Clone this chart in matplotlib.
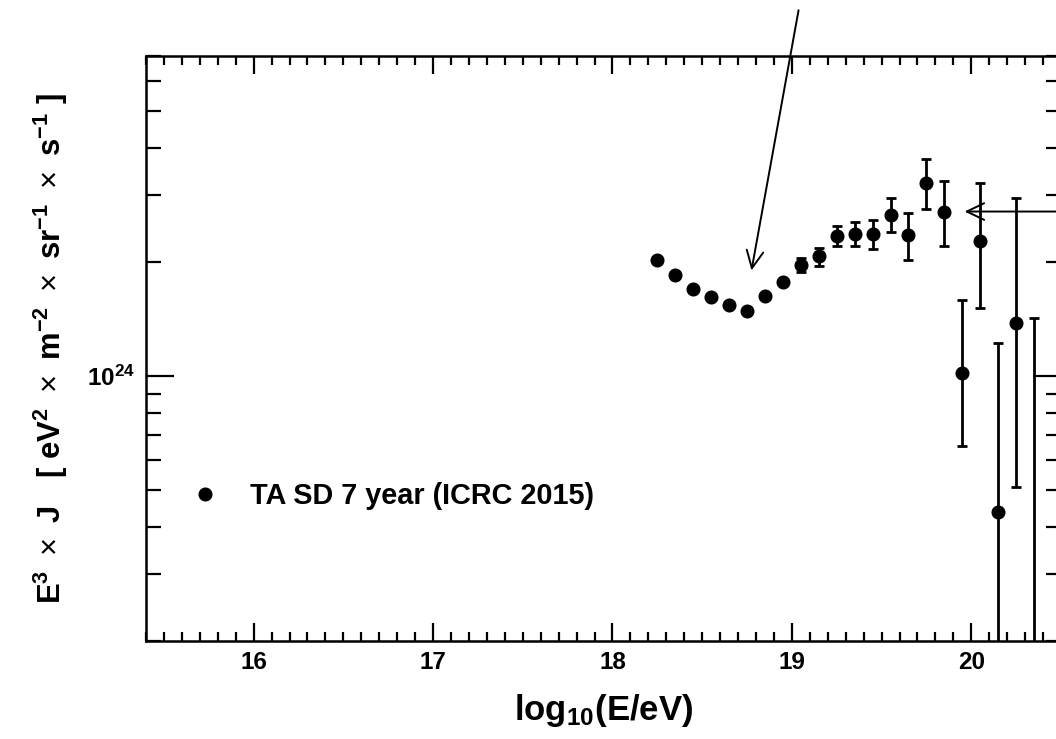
import numpy as np
import matplotlib
matplotlib.use('Agg')
import matplotlib.pyplot as plt
from matplotlib.ticker import FixedLocator, LogLocator, NullFormatter, MultipleLocator
from matplotlib.lines import Line2D

plt.rcParams['font.family'] = ['Liberation Sans', 'DejaVu Sans']
plt.rcParams['font.weight'] = 'bold'
plt.rcParams['mathtext.fontset'] = 'custom'
plt.rcParams['mathtext.rm'] = 'Liberation Sans:weight=normal'
plt.rcParams['mathtext.bf'] = 'Liberation Sans:bold'
plt.rcParams['mathtext.it'] = 'Liberation Sans:italic'

# TA SD 7 year spectrum, log10(E/eV) bin centres and E^3 J values
log_e = [18.25, 18.35, 18.45, 18.55, 18.65, 18.75, 18.85, 18.95, 19.05, 19.15, 19.25,
         19.35, 19.45, 19.55, 19.65, 19.75, 19.85, 19.95, 20.05, 20.15, 20.25, 20.35]
e3j = [2.03e24, 1.85e24, 1.70e24, 1.62e24, 1.54e24, 1.49e24, 1.63e24, 1.77e24, 1.96e24, 2.07e24, 2.35e24,
       2.37e24, 2.37e24, 2.66e24, 2.36e24, 3.24e24, 2.72e24, 1.02e24, 2.28e24, 4.38e23, 1.38e24, 1.5e23]
err_up = [2.03e24, 1.86e24, 1.71e24, 1.63e24, 1.55e24, 1.50e24, 1.65e24, 1.80e24, 2.05e24, 2.18e24, 2.49e24,
          2.55e24, 2.59e24, 2.95e24, 2.70e24, 3.75e24, 3.27e24, 1.59e24, 3.24e24, 1.22e24, 2.95e24, 1.42e24]
err_lo = [2.03e24, 1.84e24, 1.69e24, 1.61e24, 1.53e24, 1.48e24, 1.61e24, 1.74e24, 1.88e24, 1.95e24, 2.21e24,
          2.21e24, 2.17e24, 2.40e24, 2.03e24, 2.76e24, 2.20e24, 6.53e23, 1.51e24, 1.0e23, 5.10e23, 1.0e23]
legend_label = 'TA SD 7 year (ICRC 2015)'

x = np.array(log_e)
y = np.array(e3j)
yerr = [y - np.array(err_lo), np.array(err_up) - y]

fig = plt.figure(figsize=(10.56, 7.39), dpi=100)
ax = fig.add_axes([146/1056, 1 - 641/739, 915/1056, 585/739])

ax.errorbar(x, y, yerr=yerr, fmt='o', color='black', ms=9.1, elinewidth=2,
            capsize=3.6, capthick=2)

ax.set_yscale('log')
ax.set_xlim(15.4, 20.5)
ax.set_ylim(2e23, 7e24)

ax.xaxis.set_major_locator(MultipleLocator(1))
ax.xaxis.set_minor_locator(MultipleLocator(0.1))
ax.yaxis.set_major_locator(FixedLocator([1e24]))
ax.yaxis.set_major_formatter(plt.FuncFormatter(lambda v, p: r'$\mathbf{10}^{\mathbf{24}}$'))
ax.yaxis.set_minor_locator(LogLocator(base=10, subs=np.arange(2, 10)))
ax.yaxis.set_minor_formatter(NullFormatter())

ax.tick_params(axis='both', which='both', direction='in', top=True, right=True,
               width=1.6, colors='black')
ax.tick_params(axis='x', which='major', length=13, pad=7, labelsize=17.5)
ax.tick_params(axis='x', which='minor', length=6.5)
ax.tick_params(axis='y', which='major', length=20, pad=8, labelsize=17.5)
ax.tick_params(axis='y', which='minor', length=10.5)
for s in ax.spines.values():
    s.set_linewidth(1.8)

ax.set_xlabel(r'$\mathbf{log}_{\mathbf{10}}\mathbf{(E/eV)}$', fontsize=25, labelpad=13)
ax.set_ylabel(r'$\mathbf{E}^{\mathbf{3}}\ \times\ \mathbf{J}\ \ \ \mathbf{[}\ \mathbf{eV}^{\mathbf{2}}\ \times\ \mathbf{m}^{\mathbf{-2}}'
              r'\ \times\ \mathbf{sr}^{\mathbf{-1}}\ \times\ \mathbf{s}^{\mathbf{-1}}\ \mathbf{]}$', fontsize=22.3, labelpad=12)

handle = Line2D([], [], marker='o', color='black', ls='none', ms=9.1)
ax.legend([handle], [legend_label], loc='center left', bbox_to_anchor=(0.0487, 0.248),
          frameon=False, fontsize=20.8, handlelength=1.0, handletextpad=1.07,
          borderpad=0, borderaxespad=0)

arrow = dict(arrowstyle='->,head_length=1.25,head_width=0.6', lw=1.4, color='black', mutation_scale=10)
ax.annotate('', xy=(18.772, 1.87e24), xytext=(19.04, 9.4e24), arrowprops=arrow, annotation_clip=False)
ax.annotate('', xy=(19.947, 2.72e24), xytext=(20.9, 2.72e24), arrowprops=arrow, annotation_clip=False)

fig.savefig('out.png', dpi=100)
